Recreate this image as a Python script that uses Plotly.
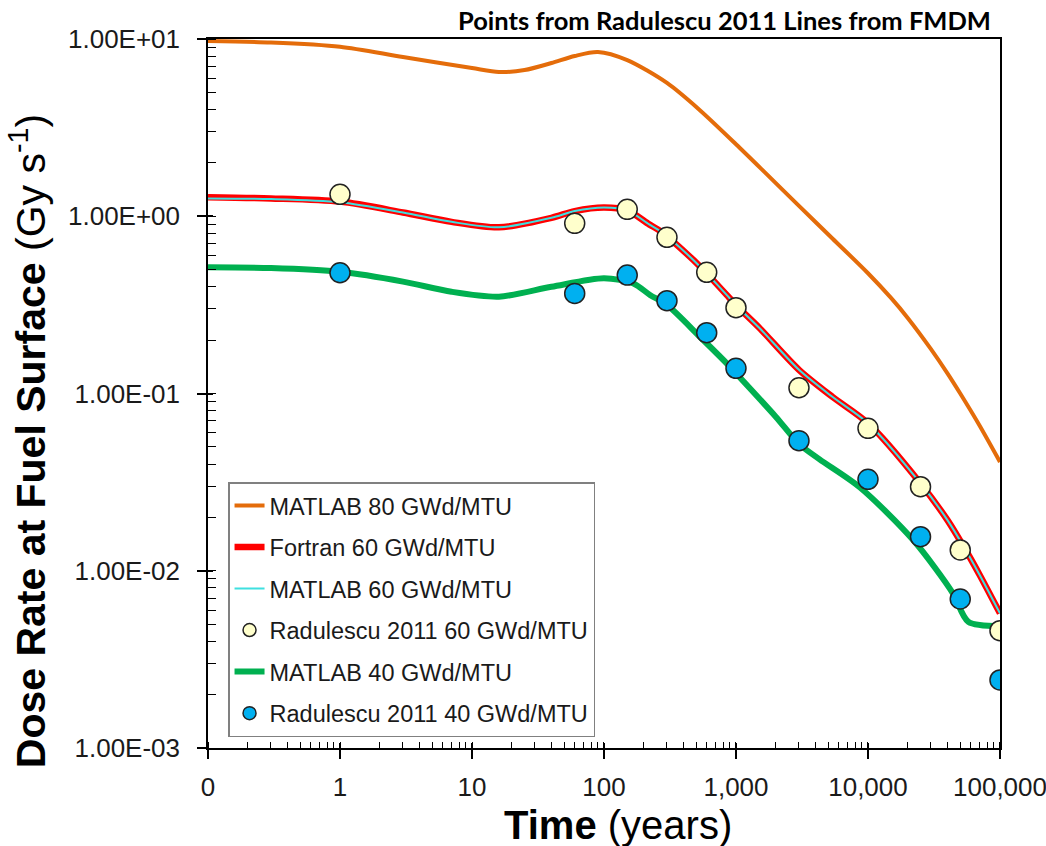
import plotly.graph_objects as go

# ---- model curves (time in years, dose rate in Gy/s) ----
t_matlab80 = [0.1, 0.3, 1, 3, 10, 16, 25, 40, 60, 90, 150, 300, 530, 1000, 1700,
              3000, 5400, 10000, 15000, 20000, 30000, 40000, 50000, 70000, 100000]
d_matlab80 = [9.74, 9.56, 9.05, 7.91, 6.86, 6.52, 6.68, 7.32, 8.02, 8.45, 7.6, 5.65,
              3.98, 2.55, 1.735, 1.145, 0.747, 0.477, 0.345, 0.267, 0.178, 0.13,
              0.10, 0.066, 0.0411]

t_fortran60 = [0.1, 0.3, 1, 3, 7, 16, 40, 60, 100, 150, 220, 270, 475, 635, 850,
               1000, 1500, 3000, 5400, 10000, 25000, 40000, 53000, 70000, 100000]
d_fortran60 = [1.28, 1.26, 1.21, 1.05, 0.93, 0.866, 0.98, 1.07, 1.12, 1.08, 0.90,
               0.82, 0.567, 0.455, 0.36, 0.315, 0.235, 0.136, 0.0955, 0.068, 0.0311,
               0.0193, 0.0137, 0.0095, 0.00575]

t_matlab60 = [0.1, 0.3, 1, 3, 7, 16, 40, 60, 100, 150, 220, 270, 475, 635, 850,
              1000, 1500, 3000, 5400, 10000, 25000, 40000, 53000, 70000, 100000]
d_matlab60 = [1.26, 1.25, 1.20, 1.05, 0.93, 0.866, 0.98, 1.07, 1.12, 1.08, 0.90,
              0.82, 0.567, 0.455, 0.36, 0.315, 0.235, 0.136, 0.0955, 0.068, 0.0311,
              0.0193, 0.0137, 0.0095, 0.00575]

t_matlab40 = [0.1, 0.3, 1, 3, 7, 16, 40, 100, 167, 223, 300, 533, 850, 1000, 2000,
              3000, 4300, 8700, 22000, 44000, 57500, 100000]
d_matlab40 = [0.515, 0.51, 0.486, 0.428, 0.375, 0.352, 0.40, 0.447, 0.418, 0.36,
              0.316, 0.209, 0.148, 0.13, 0.074, 0.052, 0.0425, 0.0295, 0.0149,
              0.00746, 0.00516, 0.00488]

# ---- Radulescu 2011 reference points ----
t_rad = [1, 60, 150, 300, 600, 1000, 3000, 10000, 25000, 50000, 100000]
d_rad60 = [1.33, 0.912, 1.094, 0.761, 0.483, 0.305, 0.1078, 0.0636, 0.0298,
           0.0131, 0.00459]
d_rad40 = [0.480, 0.367, 0.466, 0.334, 0.2203, 0.1387, 0.0542, 0.0328, 0.01556,
           0.00693, 0.00242]

# ---- axis ticks ----
x_tickvals = [0.1, 1, 10, 100, 1000, 10000, 100000]
x_ticktext = ["0", "1", "10", "100", "1,000", "10,000", "100,000"]
y_tickvals = [0.001, 0.01, 0.1, 1, 10]
y_ticktext = ["1.00E-03", "1.00E-02", "1.00E-01", "1.00E+00", "1.00E+01"]

X_RANGE = [-1, 5.0001]
Y_RANGE = [-3, 1.0001]

FONT = "Liberation Sans, Arial, sans-serif"
TXT = "#1a1a1a"

fig = go.Figure()


def curve(t, d, name, color, width, rank):
    fig.add_trace(go.Scatter(
        x=t, y=d, mode="lines", name=name, legendgroup=name, legendrank=rank,
        line=dict(color=color, width=width, shape="spline", smoothing=0.8),
    ))


def points(t, d, name, fill, rank):
    edge = dict(color="#222222", width=1.5)
    fig.add_trace(go.Scatter(
        x=t, y=d, mode="markers", name=name, legendgroup=name, showlegend=False,
        marker=dict(symbol="circle", size=20, color=fill, line=edge),
    ))
    # smaller marker used only for the legend key
    fig.add_trace(go.Scatter(
        x=[None], y=[None], mode="markers", name=name, legendgroup=name,
        legendrank=rank,
        marker=dict(symbol="circle", size=13, color=fill, line=edge),
    ))


curve(t_matlab80, d_matlab80, "MATLAB 80 GWd/MTU", "#E46C0A", 4, 1)
curve(t_matlab40, d_matlab40, "MATLAB 40 GWd/MTU", "#00B050", 6, 5)
curve(t_fortran60, d_fortran60, "Fortran 60 GWd/MTU", "#FF0000", 6.5, 2)
curve(t_matlab60, d_matlab60, "MATLAB 60 GWd/MTU", "#3FE0E0", 2, 3)
points(t_rad, d_rad40, "Radulescu 2011 40 GWd/MTU", "#00B0F0", 6)
points(t_rad, d_rad60, "Radulescu 2011 60 GWd/MTU", "#FFFFCC", 4)

# empty trace on the overlay axes that carry the inner half of the major ticks
fig.add_trace(go.Scatter(x=[], y=[], xaxis="x2", yaxis="y2",
                         showlegend=False, hoverinfo="skip"))

fig.update_layout(
    width=1046, height=846,
    margin=dict(l=208, r=46, t=39, b=98),
    paper_bgcolor="white", plot_bgcolor="white",
    font=dict(family=FONT, color=TXT),
    showlegend=True,
    legend=dict(
        x=0.0253, y=0.375, xanchor="left", yanchor="top",
        bgcolor="white", bordercolor="#808080", borderwidth=1.5,
        font=dict(family=FONT, size=23.5, color=TXT),
        tracegroupgap=8, itemsizing="trace", traceorder="grouped",
    ),
    xaxis=dict(
        type="log", range=X_RANGE, automargin=False,
        tickmode="array", tickvals=x_tickvals, ticktext=x_ticktext,
        ticks="outside", ticklen=9, tickwidth=1.5, tickcolor="black",
        tickfont=dict(family=FONT, size=26, color=TXT),
        ticklabelstandoff=6, ticklabeloverflow="allow",
        showline=True, linecolor="black", linewidth=1.5, mirror=True,
        showgrid=False, zeroline=False,
        minor=dict(ticks="inside", ticklen=6, tickwidth=1, tickcolor="black",
                   dtick="D1", showgrid=False),
    ),
    yaxis=dict(
        type="log", range=Y_RANGE, automargin=False,
        tickmode="array", tickvals=y_tickvals, ticktext=y_ticktext,
        ticks="outside", ticklen=9, tickwidth=1.5, tickcolor="black",
        tickfont=dict(family=FONT, size=26, color=TXT),
        ticklabelstandoff=12, ticklabeloverflow="allow",
        showline=True, linecolor="black", linewidth=1.5, mirror=True,
        showgrid=False, zeroline=False,
        minor=dict(ticks="inside", ticklen=8, tickwidth=1, tickcolor="black",
                   dtick="D1", showgrid=False),
    ),
    xaxis2=dict(
        type="log", range=X_RANGE, overlaying="x", anchor="y2", side="bottom",
        automargin=False,
        tickmode="array", tickvals=x_tickvals, ticks="inside", ticklen=5,
        tickwidth=1.5, tickcolor="black", showticklabels=False,
        showline=False, showgrid=False, zeroline=False,
    ),
    yaxis2=dict(
        type="log", range=Y_RANGE, overlaying="y", anchor="x2", side="left",
        automargin=False,
        tickmode="array", tickvals=y_tickvals, ticks="inside", ticklen=5,
        tickwidth=1.5, tickcolor="black", showticklabels=False,
        showline=False, showgrid=False, zeroline=False,
    ),
    annotations=[
        dict(text="<b>Points from Radulescu 2011 Lines from FMDM</b>",
             xref="paper", yref="paper", x=0.9915, y=1.027,
             xanchor="right", yanchor="middle", showarrow=False,
             font=dict(family="Lato, Carlito, sans-serif", size=25.5, color="black")),
        dict(text="<b>Dose Rate at Fuel Surface</b> (Gy s<sup>-1</sup>)",
             xref="paper", yref="paper", x=-0.227, y=0.433,
             xanchor="center", yanchor="middle", textangle=-90, showarrow=False,
             font=dict(family=FONT, size=41, color="black")),
        dict(text="<b>Time</b> (years)",
             xref="paper", yref="paper", x=0.518, y=-0.108,
             xanchor="center", yanchor="middle", showarrow=False,
             font=dict(family=FONT, size=40, color="black")),
    ],
)

fig.write_html("out.html")
